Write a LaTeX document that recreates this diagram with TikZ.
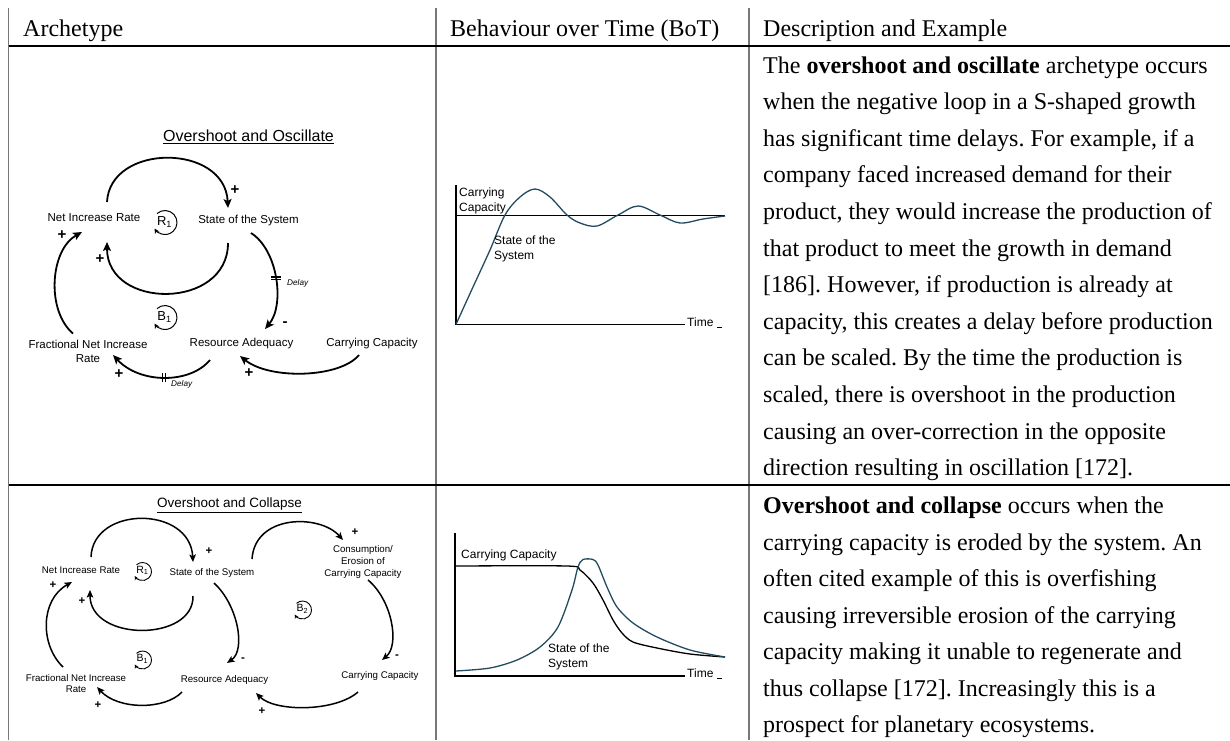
\documentclass[tikz,border=0pt]{standalone}
\usepackage{fontspec}
\setmainfont{Liberation Serif}
\newfontfamily\dsans{Liberation Sans}
\usetikzlibrary{arrows.meta,calc}
\definecolor{curveteal}{RGB}{35,75,95}
\definecolor{rulegray}{RGB}{120,120,120}
\frenchspacing
\begin{document}
\begin{tikzpicture}[x=1pt,y=-1pt,
  hdr/.style={font=\fontsize{24}{29}\selectfont, anchor=base west, inner sep=0pt},
  bodytxt/.style={font=\fontsize{24}{29}\selectfont, anchor=base west, inner sep=0pt},
  ttlA/.style={font=\dsans\fontsize{16}{18}\selectfont, inner sep=0pt},
  ttlB/.style={font=\dsans\fontsize{13.5}{16}\selectfont, inner sep=0pt},
  labA/.style={font=\dsans\fontsize{11.5}{14.5}\selectfont, align=center, inner sep=0pt},
  labB/.style={font=\dsans\fontsize{9.7}{11.8}\selectfont, align=center, inner sep=0pt},
  loopTA/.style={font=\dsans\fontsize{13}{14}\selectfont, inner sep=0pt},
  loopTB/.style={font=\dsans\fontsize{10.5}{12}\selectfont, inner sep=0pt},
  signA/.style={font=\dsans\bfseries\fontsize{15}{15}\selectfont, inner sep=0pt},
  signB/.style={font=\dsans\bfseries\fontsize{11.5}{12}\selectfont, inner sep=0pt},
  delaytxt/.style={font=\dsans\itshape\fontsize{8.2}{9}\selectfont, anchor=west, inner sep=0pt},
  linkA/.style={line width=1.8pt, -{Stealth[length=9pt,width=8pt,inset=2pt]}},
  linkB/.style={line width=1.5pt, -{Stealth[length=7.5pt,width=6.5pt,inset=1.6pt]}},
  loopA/.style={line width=1pt, -{Stealth[length=5pt,width=5pt]}},
  loopB/.style={line width=0.9pt, -{Stealth[length=4pt,width=4pt]}},
  delaymark/.style={inner sep=0pt, pos=0.5},
  tabrule/.style={line width=1.4pt, black},
  colrule/.style={line width=1.4pt, rulegray},
  axis/.style={line width=1.3pt, black},
  bot/.style={font=\dsans\fontsize{12}{15}\selectfont, align=left, anchor=west, inner sep=0pt},
  curveS/.style={line width=1.3pt, curveteal},
  curveC/.style={line width=1.3pt, black}
]
\useasboundingbox (0,0) rectangle (1230,740);

% ---------- table rules ----------
\draw[colrule] (8.5,8) -- (8.5,740);
\draw[colrule] (436,8) -- (436,740);
\draw[colrule] (749,8) -- (749,740);
\draw[line width=2pt] (8.5,46) -- (1230,46);
\draw[tabrule] (8.5,485) -- (1230,485);

% ---------- headers ----------
\node[hdr] (h1) at (23,36) {Archetype};
\node[hdr] (h2) at (450,36) {Behaviour over Time (BoT)};
\node[hdr] (h3) at (763,36) {Description and Example};

% ---------- description texts ----------
\foreach \txt [count=\i] in {
 {The \textbf{overshoot and oscillate} archetype occurs},
 {when the negative loop in a S-shaped growth},
 {has significant time delays. For example, if a},
 {company faced increased demand for their},
 {product, they would increase the production of},
 {that product to meet the growth in demand},
 {[186]. However, if production is already at},
 {capacity, this creates a delay before production},
 {can be scaled. By the time the production is},
 {scaled, there is overshoot in the production},
 {causing an over-correction in the opposite},
 {direction resulting in oscillation [172].}}
{ \node[bodytxt] (da\i) at (763,{73+36.6*(\i-1)}) {\txt}; }

\foreach \txt [count=\i] in {
 {\textbf{Overshoot and collapse} occurs when the},
 {carrying capacity is eroded by the system. An},
 {often cited example of this is overfishing},
 {causing irreversible erosion of the carrying},
 {capacity making it unable to regenerate and},
 {thus collapse [172]. Increasingly this is a},
 {prospect for planetary ecosystems.}}
{ \node[bodytxt] (db\i) at (763,{513.6+36.5*(\i-1)}) {\txt}; }

% ================= Diagram 1 : Overshoot and Oscillate =================
\node[ttlA] (t1) at (248.5,137) {\underline{Overshoot and Oscillate}};
\node[labA] (nir1) at (94,218) {Net Increase Rate};
\node[labA] (sos1) at (248.5,221) {State of the System};
\node[labA] (fnir1) at (88,351.5) {Fractional Net Increase\\Rate};
\node[labA] (ra1) at (241.5,344) {Resource Adequacy};
\node[labA] (cc1) at (372,344) {Carrying Capacity};

\draw[linkA] ($(nir1)+(13,-16)$) .. controls +(3,-59) and +(-3,-65) .. ($(sos1)+(-20.5,-13)$);
\draw[linkA] ($(sos1)+(-20.5,22)$) .. controls +(0,67) and +(0,68) .. ($(nir1)+(13,24)$);
\draw[linkA] ($(fnir1)+(-15,-18)$) .. controls +(-27,-23) and +(-32,18) .. ($(nir1)+(-12,14)$);
\draw[linkA] ($(sos1)+(2.5,12)$) .. controls +(27,17) and +(20,-24) .. ($(ra1)+(23.5,-15)$)
   node[delaymark, rotate=90] {\rule{1.3pt}{10pt}\hspace{1.5pt}\rule{1.3pt}{10pt}};
\draw[linkA] ($(ra1)+(-31.5,16)$) .. controls +(-20,24) and +(27,29) .. ($(fnir1)+(25,3.5)$)
   node[delaymark] {\rule{1.3pt}{9pt}\hspace{1.8pt}\rule{1.3pt}{9pt}};
\draw[linkA] ($(cc1)+(-13,11)$) .. controls +(-19,23) and +(30,24) .. ($(ra1)+(-1.5,12)$);

\node[delaytxt] (dl1) at (287,283) {Delay};
\node[delaytxt] (dl2) at (171,384) {Delay};

\node[signA] (s11) at (235,190) {+};
\node[signA] (s12) at (100,259) {+};
\node[signA] (s13) at (62,235) {+};
\node[signA] (s14) at (285,324) {-};
\node[signA] (s15) at (119,374) {+};
\node[signA] (s16) at (249,373) {+};

\node[loopTA] (r1a) at (164.5,222) {R\textsubscript{1}};
\draw[loopA] ($(r1a)+(0.5,0.5)+(-132:12)$) arc[start angle=-132, end angle=150, radius=12];
\node[loopTA] (b1a) at (164.5,317) {B\textsubscript{1}};
\draw[loopA] ($(b1a)+(0.5,0.5)+(-132:12)$) arc[start angle=-132, end angle=150, radius=12];

% ================= Diagram 2 : Overshoot and Collapse =================
\node[ttlB] (t2) at (229.5,505) {\underline{Overshoot and Collapse}};
\node[labB] (nir2) at (81,570) {Net Increase Rate};
\node[labB] (sos2) at (212,573) {State of the System};
\node[labB] (cons2) at (363,562) {Consumption/\\Erosion of\\Carrying Capacity};
\node[labB] (fnir2) at (76,683.5) {Fractional Net Increase\\Rate};
\node[labB] (ra2) at (224.5,680) {Resource Adequacy};
\node[labB] (cc2) at (380,676) {Carrying Capacity};

\draw[linkB] ($(nir2)+(10,-13)$) .. controls +(2,-51.5) and +(-3,-56.5) .. ($(sos2)+(-19,-11)$);
\draw[linkB] ($(sos2)+(-19,23)$) .. controls +(1,46) and +(0,52) .. ($(nir2)+(9,20)$);
\draw[linkB] ($(fnir2)+(-13,-16.5)$) .. controls +(-23,-22) and +(-32,18) .. ($(nir2)+(-9,12)$);
\draw[linkB] ($(sos2)+(2,10)$) .. controls +(24,22) and +(19,-13) .. ($(ra2)+(2.5,-17)$);
\draw[linkB] ($(sos2)+(40,-14)$) .. controls +(3,-45) and +(-23,-26) .. ($(cons2)+(-20,-22)$);
\draw[linkB] ($(cons2)+(5,18)$) .. controls +(24,20) and +(18,-15) .. ($(cc2)+(2,-16)$);
\draw[linkB] ($(cc2)+(-22,16)$) .. controls +(-23,20) and +(19,19) .. ($(ra2)+(31.5,13)$);
\draw[linkB] ($(ra2)+(-42.5,12)$) .. controls +(-17,18) and +(21,23) .. ($(fnir2)+(21,3.5)$);

\node[signB] (s21) at (209,551) {+};
\node[signB] (s22) at (82,601) {+};
\node[signB] (s23) at (53,585) {+};
\node[signB] (s24) at (355,532) {+};
\node[signB] (s25) at (262,711) {+};
\node[signB] (s26) at (98,705) {+};
\node[signB] (s27) at (243,660) {-};
\node[signB] (s28) at (397,657) {-};

\node[loopTB] (r1b) at (142.5,570.5) {R\textsubscript{1}};
\draw[loopB] ($(r1b)+(0,1)+(-132:9)$) arc[start angle=-132, end angle=150, radius=9];
\node[loopTB] (b1b) at (142.5,659) {B\textsubscript{1}};
\draw[loopB] ($(b1b)+(0,1)+(-132:9)$) arc[start angle=-132, end angle=150, radius=9];
\node[loopTB] (b2b) at (302.5,609) {B\textsubscript{2}};
\draw[loopB] ($(b2b)+(0,1)+(-132:9)$) arc[start angle=-132, end angle=150, radius=9];

% ================= Graph 1 =================
\draw[axis] (456,185) -- (456,324.5) -- (685,324.5);
\draw[line width=1.3pt] (456,215.7) -- (725,215.7);
\draw[curveS] plot[smooth, tension=0.55] coordinates {
 (456,324.3) (473,287) (490,250) (505,215) (520,197) (535,189) (550,197)
 (567,215) (580,223) (597,226) (618,215) (638,206) (660,215) (680,223)
 (703,219) (725,216)};
\node[bot] (g1cc) at (459,200.5) {Carrying\\Capacity};
\node[bot] (g1ss) at (494,248.5) {State of the\\System};
\node[bot] (g1t) at (687,323) {Time\hspace{4pt}\rule[-0.8pt]{5pt}{1pt}};

% ================= Graph 2 =================
\draw[axis] (455,533) -- (455,676) -- (685,676);
\draw[curveC] plot[smooth, tension=0.5] coordinates {
 (456,566) (567,566) (580,570) (593,583) (603,600) (613,620) (622,633)
 (633,642) (657,648) (690,654) (725,657)};
\draw[curveS] plot[smooth, tension=0.5] coordinates {
 (456,671) (490,668) (517,660) (540,647) (558,627) (572,590) (578,567)
 (583,559.5) (593,559.5) (598,565) (607,587) (617,607) (633,623) (657,637)
 (690,650) (725,657)};
\node[bot] (g2cc) at (461,555) {Carrying Capacity};
\node[bot] (g2ss) at (548,657) {State of the\\System};
\node[bot] (g2t) at (687,674) {Time\hspace{4pt}\rule[-0.8pt]{5pt}{1pt}};

\end{tikzpicture}
\end{document}
